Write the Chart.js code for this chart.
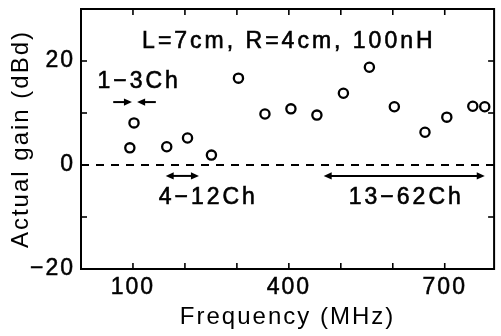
<!DOCTYPE html>
<html><head><meta charset="utf-8">
<script src="https://cdn.jsdelivr.net/npm/chart.js@4/dist/chart.umd.min.js"></script>
<style>html,body{margin:0;padding:0;background:#fff}#wrap{width:501px;height:336px;position:relative}canvas{display:block}</style>
</head><body><div id="wrap"><canvas id="c" width="501" height="336" style="width:501px;height:336px"></canvas></div>
<script>
// ---- data ----
const frequencies = [94, 102, 165, 205, 251, 303, 354, 404, 454, 505, 555, 603, 662, 704, 754, 777];
const gains       = [3.3, 8.1, 3.5, 5.2, 1.9, 16.7, 9.8, 10.8, 9.6, 13.8, 18.8, 11.2, 6.3, 9.2, 11.3, 11.2];
const xLabelValues = [100, 400, 700];
const yLabelValues = [-20, 0, 20];
const xTickValues = [100, 200, 300, 400, 500, 600, 700];
const yTickValues = [-10, 0, 10, 20];
const conditionText = 'L=7cm, R=4cm, 100nH';
const bandNames = ['1−3Ch', '4−12Ch', '13−62Ch'];
const bandStarts = [98, 163, 467];
const bandEnds = [108, 227, 777];

// annotation placement (data units)
const notes = {
  condition: {x: 400, y: 23.7},
  band0: {x: 112, y: 16, arrowY: 12.1, outer: 36},
  band1: {x: 245, y: -6.3, arrowY: -2.1},
  band2: {x: 626, y: -6.3, arrowY: -2.1}
};

const FONT = "'Liberation Sans', Arial, sans-serif";

function arrowHead(ctx, x, y, dir) {
  const L = 8, W = 3.6;
  ctx.beginPath();
  ctx.moveTo(x, y);
  ctx.lineTo(x - dir * L, y - W);
  ctx.lineTo(x - dir * L, y + W);
  ctx.closePath();
  ctx.fill();
}
function hLine(ctx, x1, x2, y) {
  ctx.beginPath(); ctx.moveTo(x1, y); ctx.lineTo(x2, y); ctx.stroke();
}

const deco = {
  id: 'deco',
  beforeDraw(chart) { chart.ctx.letterSpacing = '2px'; },
  beforeDatasetsDraw(chart) {
    const {ctx, chartArea: a, scales: {y}} = chart;
    ctx.save();
    ctx.strokeStyle = '#000';
    ctx.lineWidth = 1.8;
    ctx.setLineDash([8, 7]);
    hLine(ctx, a.left, a.right, y.getPixelForValue(0));
    ctx.restore();
  },
  afterDraw(chart) {
    const {ctx, chartArea: a, scales: {x, y}} = chart;
    ctx.save();
    ctx.strokeStyle = '#000'; ctx.fillStyle = '#000';
    ctx.lineWidth = 2;
    ctx.strokeRect(a.left, a.top, a.right - a.left, a.bottom - a.top);
    const T = 6;
    ctx.lineWidth = 1.6;
    xTickValues.forEach(v => {
      const px = x.getPixelForValue(v);
      ctx.beginPath(); ctx.moveTo(px, a.bottom); ctx.lineTo(px, a.bottom - T); ctx.stroke();
      ctx.beginPath(); ctx.moveTo(px, a.top); ctx.lineTo(px, a.top + T); ctx.stroke();
    });
    yTickValues.forEach(v => {
      const py = y.getPixelForValue(v);
      ctx.beginPath(); ctx.moveTo(a.left, py); ctx.lineTo(a.left + T, py); ctx.stroke();
      ctx.beginPath(); ctx.moveTo(a.right, py); ctx.lineTo(a.right - T, py); ctx.stroke();
    });

    // arrows
    ctx.lineWidth = 2;
    const b0 = notes.band0;
    let ay = y.getPixelForValue(b0.arrowY);
    let s = x.getPixelForValue(bandStarts[0]), e = x.getPixelForValue(bandEnds[0]);
    let so = x.getPixelForValue(bandStarts[0] - b0.outer), eo = x.getPixelForValue(bandEnds[0] + b0.outer);
    hLine(ctx, so, s - 4, ay); arrowHead(ctx, s, ay, 1);
    hLine(ctx, e + 4, eo, ay); arrowHead(ctx, e, ay, -1);
    [1, 2].forEach(i => {
      const n = notes['band' + i];
      const py = y.getPixelForValue(n.arrowY);
      const p1 = x.getPixelForValue(bandStarts[i]), p2 = x.getPixelForValue(bandEnds[i]);
      hLine(ctx, p1 + 4, p2 - 4, py);
      arrowHead(ctx, p1, py, -1); arrowHead(ctx, p2, py, 1);
    });

    // texts
    ctx.letterSpacing = '3px';
    ctx.font = '23px ' + FONT;
    ctx.textAlign = 'center'; ctx.textBaseline = 'middle';
    ctx.lineWidth = 0.6;
    const put = (t, px, py) => { ctx.fillText(t, px, py); ctx.strokeText(t, px, py); };
    put(conditionText, x.getPixelForValue(notes.condition.x), y.getPixelForValue(notes.condition.y));
    bandNames.forEach((t, i) => {
      const n = notes['band' + i];
      put(t, x.getPixelForValue(n.x), y.getPixelForValue(n.y));
    });
    ctx.restore();
  }
};

new Chart(document.getElementById('c'), {
  type: 'scatter',
  data: {
    datasets: [{
      data: frequencies.map((f, i) => ({x: f, y: gains[i]})),
      pointStyle: 'circle',
      pointRadius: 4.6,
      pointBorderWidth: 2.3,
      pointBorderColor: '#000',
      pointBackgroundColor: 'rgba(255,255,255,0)',
      showLine: false
    }]
  },
  options: {
    responsive: false,
    animation: false,
    devicePixelRatio: 1,
    layout: {padding: {top: 9, right: 4, left: 0, bottom: 0}},
    plugins: {legend: {display: false}, tooltip: {enabled: false}},
    scales: {
      x: {
        type: 'linear', min: 0, max: 795,
        grid: {display: false, drawTicks: false},
        border: {display: false},
        afterFit(s) { s.height = 67; s.paddingLeft = 0; s.paddingRight = 0; },
        afterBuildTicks(s) { s.ticks = xLabelValues.map(v => ({value: v})); },
        ticks: {
          autoSkip: false, maxRotation: 0, padding: 5, color: '#000',
          font: {family: FONT, size: 23},
          textStrokeColor: '#000', textStrokeWidth: 0.5,
          callback: v => String(v)
        },
        title: {display: true, text: 'Frequency (MHz)', color: '#000',
          font: {family: FONT, size: 24}, padding: {top: 0, bottom: 4}}
      },
      y: {
        type: 'linear', min: -20, max: 30,
        grid: {display: false, drawTicks: false},
        border: {display: false},
        afterFit(s) { s.width = 81; s.paddingTop = 0; s.paddingBottom = 0; },
        afterBuildTicks(s) { s.ticks = yLabelValues.map(v => ({value: v})); },
        ticks: {
          padding: 6, color: '#000',
          font: {family: FONT, size: 23},
          textStrokeColor: '#000', textStrokeWidth: 0.5,
          callback: v => (v < 0 ? '−' + Math.abs(v) : String(v))
        },
        title: {display: true, text: 'Actual gain (dBd)', color: '#000',
          font: {family: FONT, size: 24}, padding: {top: 7, bottom: 0}}
      }
    }
  },
  plugins: [deco]
});
</script>
</body></html>
